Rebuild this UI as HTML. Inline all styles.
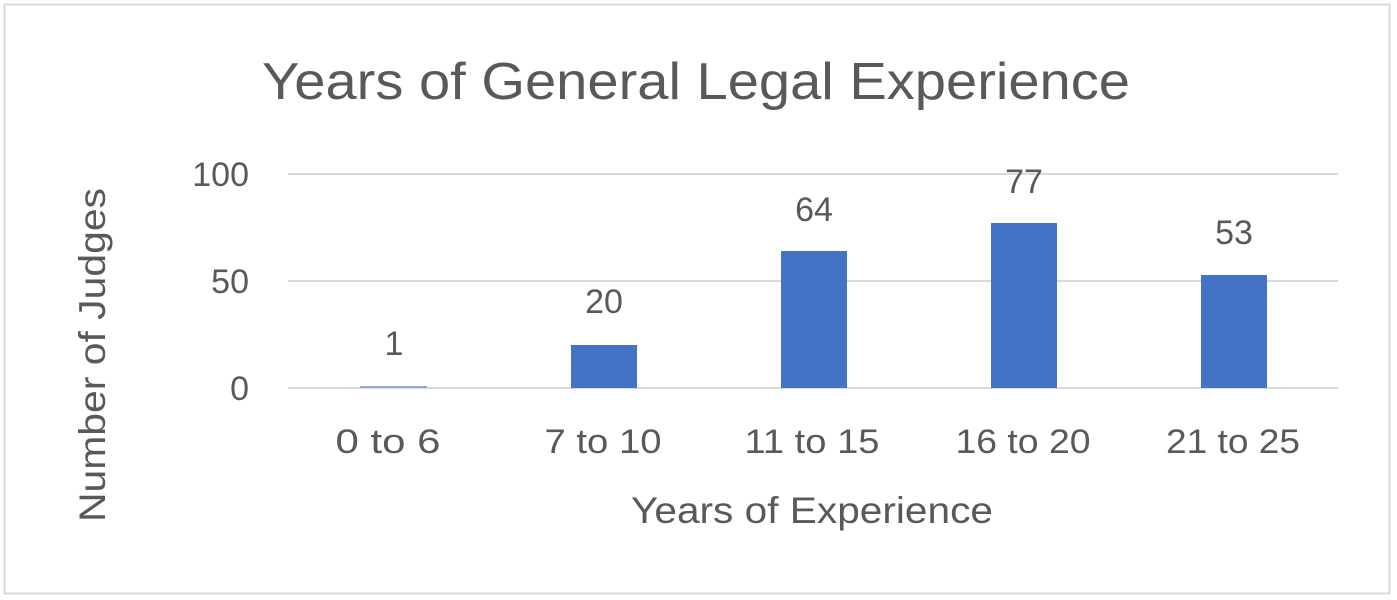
<!DOCTYPE html>
<html><head><meta charset="utf-8"><style>html,body{margin:0;padding:0;background:#fff}svg{display:block}</style></head><body>
<svg width="1397" height="600" viewBox="0 0 1397 600" xmlns="http://www.w3.org/2000/svg" font-family="Liberation Sans, Arial, sans-serif" fill="#595959">
<rect x="4.5" y="4.5" width="1385" height="589" fill="#fff" stroke="#d9d9d9" stroke-width="2"/>
<text x="696" y="99" font-size="52" text-anchor="middle" textLength="868" lengthAdjust="spacingAndGlyphs">Years of General Legal Experience</text>
<g stroke="#d9d9d9" stroke-width="2">
<line x1="288" y1="174" x2="1338" y2="174"/>
<line x1="288" y1="281" x2="1338" y2="281"/>
<line x1="288" y1="388" x2="1338" y2="388"/>
</g>
<g font-size="34" text-anchor="end">
<text x="249" y="186">100</text>
<text x="249" y="293">50</text>
<text x="249" y="400">0</text>
</g>
<g fill="#4472c4">
<rect x="360" y="386" width="67" height="2" fill="#8faadc"/>
<rect x="571" y="345" width="66" height="43"/>
<rect x="781" y="251" width="66" height="137"/>
<rect x="991" y="223" width="66" height="165"/>
<rect x="1201" y="275" width="66" height="113"/>
</g>
<g font-size="34" text-anchor="middle">
<text x="394" y="355">1</text>
<text x="604" y="313">20</text>
<text x="814" y="221">64</text>
<text x="1024" y="193">77</text>
<text x="1234" y="244">53</text>
<text x="388" y="453" textLength="105" lengthAdjust="spacingAndGlyphs">0 to 6</text>
<text x="603" y="453" textLength="117" lengthAdjust="spacingAndGlyphs">7 to 10</text>
<text x="812" y="453" textLength="135" lengthAdjust="spacingAndGlyphs">11 to 15</text>
<text x="1023" y="453" textLength="135" lengthAdjust="spacingAndGlyphs">16 to 20</text>
<text x="1233" y="453" textLength="134" lengthAdjust="spacingAndGlyphs">21 to 25</text>
</g>
<text x="812" y="523" font-size="37" text-anchor="middle" textLength="362" lengthAdjust="spacingAndGlyphs">Years of Experience</text>
<text transform="translate(105,355) rotate(-90)" font-size="37" text-anchor="middle" textLength="334" lengthAdjust="spacingAndGlyphs">Number of Judges</text>
</svg>
</body></html>
